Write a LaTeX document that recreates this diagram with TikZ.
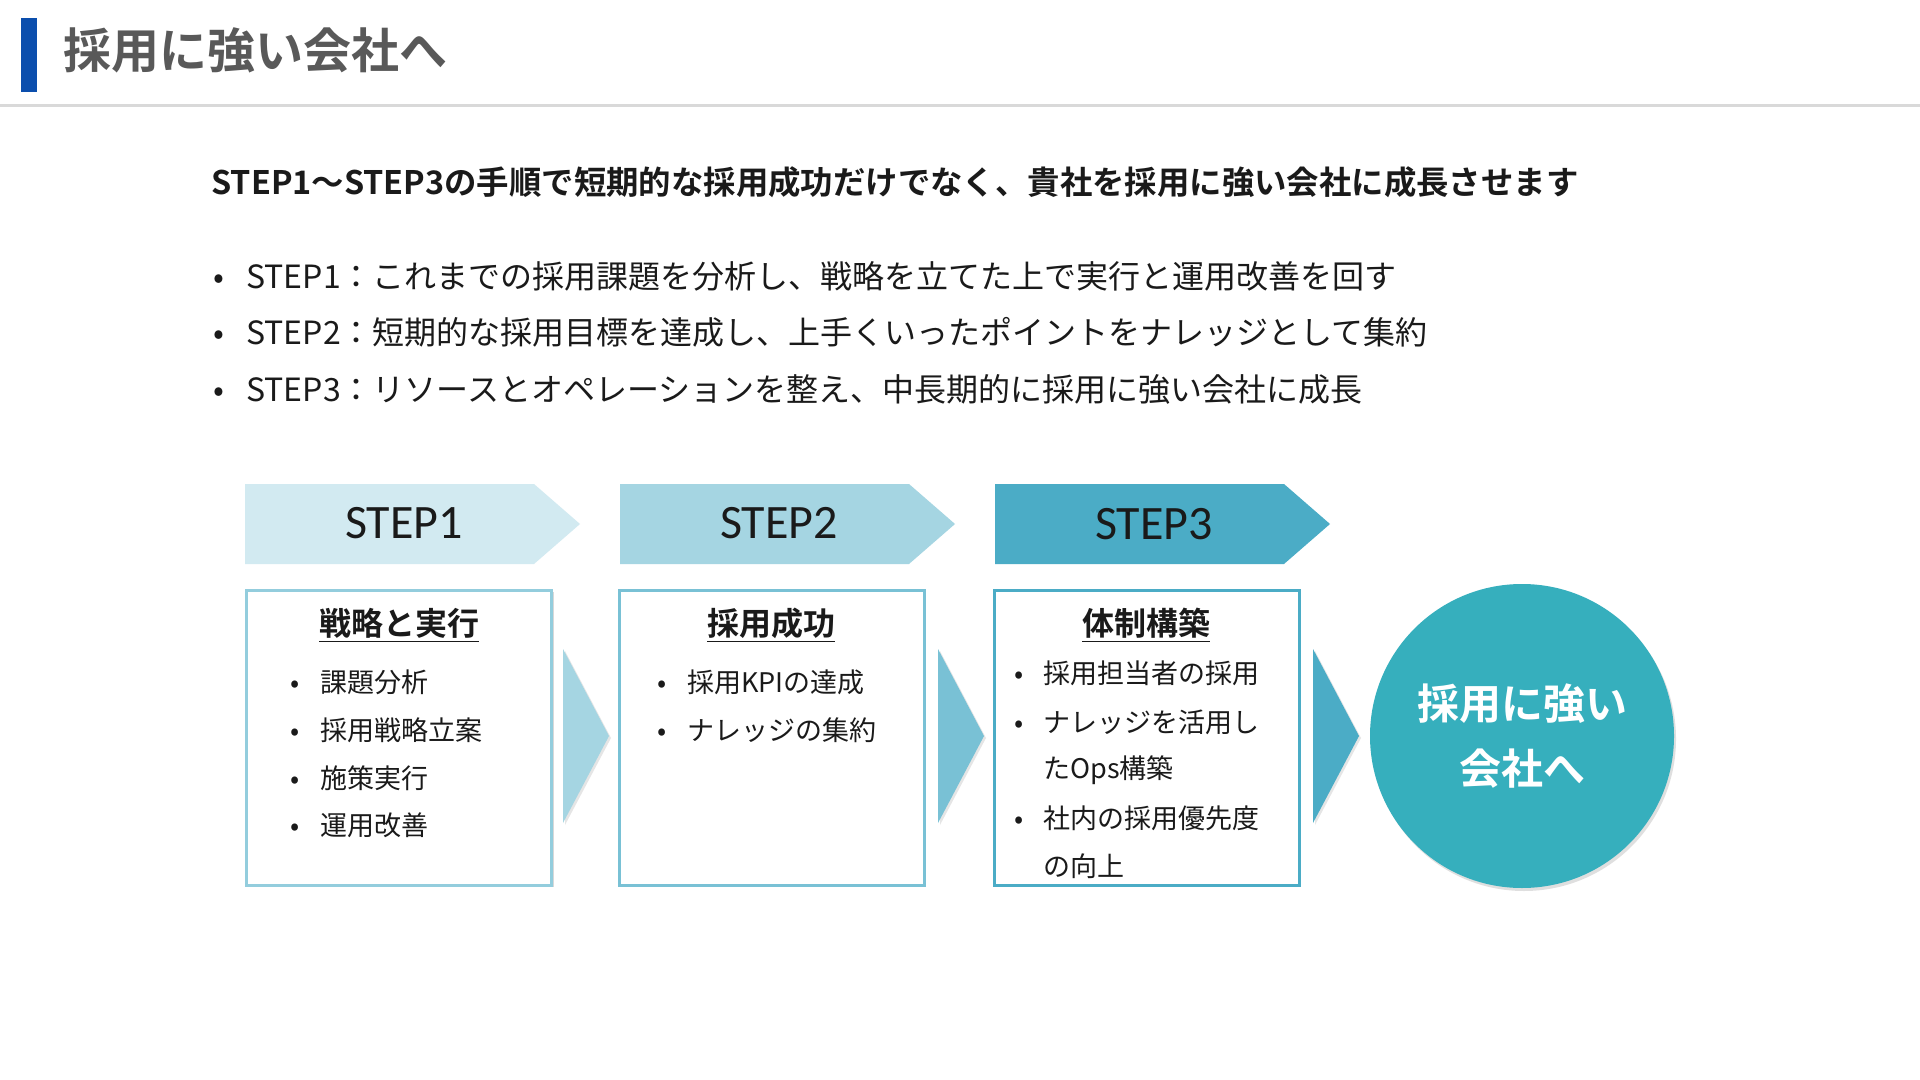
\documentclass[tikz,border=0pt]{standalone}
\usepackage{fontspec}
\setmainfont{Noto Sans CJK JP}[BoldFont={* Bold}]
\newfontfamily\stepfont{Carlito}
\usetikzlibrary{positioning,shadows}
\definecolor{barblue}{HTML}{0B4EAD}
\definecolor{titlegray}{HTML}{595959}
\definecolor{rulegray}{HTML}{D9D9D9}
\definecolor{ink}{HTML}{1A1A1A}
\definecolor{aqualight}{HTML}{D2EAF1}
\definecolor{aquasoft}{HTML}{A5D5E2}
\definecolor{aquamid}{HTML}{79C1D5}
\definecolor{aquadeep}{HTML}{4BACC6}
\definecolor{edgelight}{HTML}{93CDDD}
\definecolor{goalteal}{HTML}{36AFBD}
\tikzset{
  pagetitle/.style={anchor=west, inner sep=0pt, text=titlegray, font=\bfseries\fontsize{24}{28}\selectfont},
  lead/.style={anchor=west, inner sep=0pt, text=ink, font=\bfseries\fontsize{16.2}{20}\selectfont},
  point/.style={anchor=west, inner sep=0pt, text=ink, font=\fontsize{16}{20}\selectfont},
  steplabel/.style={inner sep=0pt, text=ink, font=\stepfont\fontsize{24}{28}\selectfont},
  card/.style={rectangle, fill=white, line width=1.5pt, minimum width=152.5pt, minimum height=147.5pt, inner sep=0pt, drop shadow={shadow xshift=1pt, shadow yshift=-1.2pt, opacity=0.3}},
  cardhead/.style={inner sep=0pt, text=ink, font=\bfseries\fontsize{16}{20}\selectfont},
  item/.style={anchor=west, inner sep=0pt, text=ink, font=\fontsize{13.5}{17}\selectfont},
  flow/.style={drop shadow={shadow xshift=1pt, shadow yshift=-1pt, opacity=0.2}},
  goal/.style={circle, fill=goalteal, minimum size=152pt, inner sep=0pt, align=center, text=white, font=\bfseries\fontsize{21}{32.5}\selectfont, drop shadow={shadow xshift=1pt, shadow yshift=-1.5pt, opacity=0.25}}
}

\begin{document}
\begin{tikzpicture}[x=0.5pt, y=-0.5pt]
  \useasboundingbox (0,0) rectangle (1920,1080);
  \fill[white] (0,0) rectangle (1920,1080);
  \fill[barblue] (21,18) rectangle (37,92);
  \draw[rulegray, line width=1.5pt] (0,106) -- (1920,106);
  \node[pagetitle] (title) at (63,50) {採用に強い会社へ};

  \node[lead] (lead) at (211,182) {STEP1～STEP3の手順で短期的な採用成功だけでなく、貴社を採用に強い会社に成長させます};
  \node[point] (p1) at (213,276) {\makebox[16.5pt][l]{•}STEP1：これまでの採用課題を分析し、戦略を立てた上で実行と運用改善を回す};
  \node[point] (p2) at (213,332) {\makebox[16.5pt][l]{•}STEP2：短期的な採用目標を達成し、上手くいったポイントをナレッジとして集約};
  \node[point] (p3) at (213,389) {\makebox[16.5pt][l]{•}STEP3：リソースとオペレーションを整え、中長期的に採用に強い会社に成長};

  % step banners
  \fill[aqualight] (245,484) -- (534,484) -- (580,524) -- (534,564) -- (245,564) -- cycle;
  \fill[aquasoft] (620,484) -- (909,484) -- (955,524) -- (909,564) -- (620,564) -- cycle;
  \fill[aquadeep] (995,484) -- (1284,484) -- (1330,524) -- (1284,564) -- (995,564) -- cycle;
  \node[steplabel] (s1) at (404,523) {STEP1};
  \node[steplabel] (s2) at (779,523) {STEP2};
  \node[steplabel] (s3) at (1154,524) {STEP3};

  \node[card, draw=edgelight] (box1) at (399,737.5) {};
  \node[card, draw=aquamid] (box2) at (771.5,737.5) {};
  \node[card, draw=aquadeep] (box3) at (1146.5,737.5) {};

  \node[cardhead] (h1) at (399,625) {\underline{戦略と実行}};
  \node[item] (a1) at (290,682) {\makebox[15pt][l]{•}課題分析};
  \node[item] (a2) at (290,730) {\makebox[15pt][l]{•}採用戦略立案};
  \node[item] (a3) at (290,778) {\makebox[15pt][l]{•}施策実行};
  \node[item] (a4) at (290,825) {\makebox[15pt][l]{•}運用改善};

  \node[cardhead] (h2) at (771,625) {\underline{採用成功}};
  \node[item] (b1) at (657,682) {\makebox[15pt][l]{•}採用KPIの達成};
  \node[item] (b2) at (657,730) {\makebox[15pt][l]{•}ナレッジの集約};

  \node[cardhead] (h3) at (1146,625) {\underline{体制構築}};
  \node[item] (c1) at (1014,673) {\makebox[14.5pt][l]{•}採用担当者の採用};
  \node[item] (c2) at (1014,722) {\makebox[14.5pt][l]{•}ナレッジを活用し};
  \node[item] (c3) at (1043,770) {たOps構築};
  \node[item] (c4) at (1014,818) {\makebox[14.5pt][l]{•}社内の採用優先度};
  \node[item] (c5) at (1043,866) {の向上};

  % flow triangles
  \fill[aquasoft, flow] (563,649) -- (609,736) -- (563,823) -- cycle;
  \fill[aquamid, flow] (938,649) -- (984,736) -- (938,823) -- cycle;
  \fill[aquadeep, flow] (1313,649) -- (1359,736) -- (1313,823) -- cycle;

  \node[goal] (goal) at (1522,736) {採用に強い\\会社へ};
\end{tikzpicture}
\end{document}
